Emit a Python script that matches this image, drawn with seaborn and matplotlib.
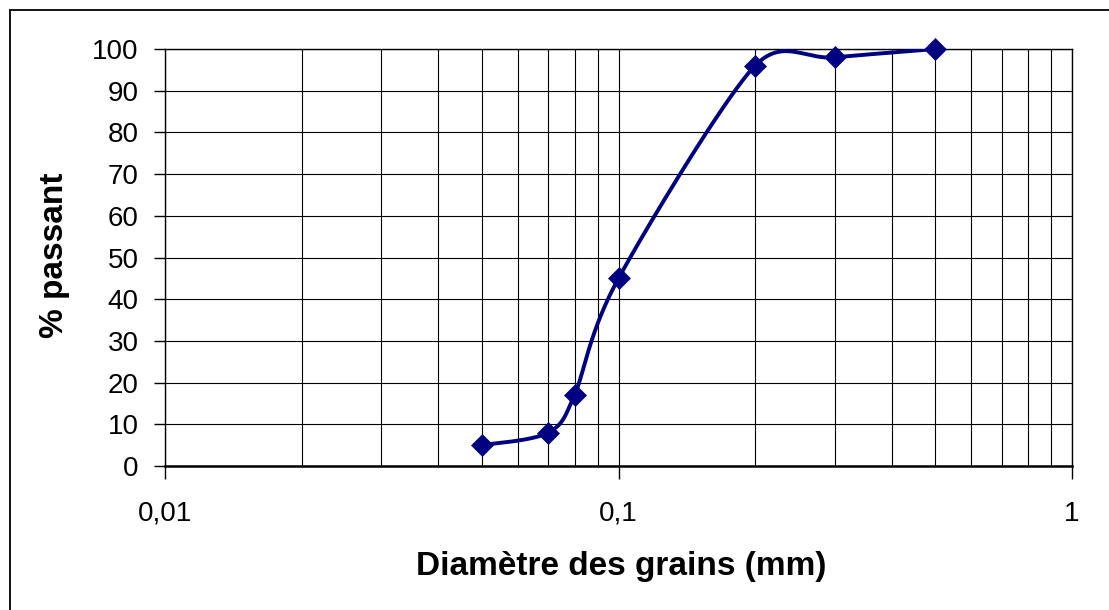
import numpy as np
import matplotlib
matplotlib.use("Agg")
import matplotlib.pyplot as plt
from matplotlib.patches import Rectangle
from matplotlib.ticker import LogLocator, FixedLocator, FixedFormatter, NullFormatter
import seaborn as sns

# Grain size distribution (sieve analysis)
diametre_mm = [0.05, 0.07, 0.08, 0.1, 0.2, 0.3, 0.5]
passant_pct = [5, 8, 17, 45, 96, 98, 100]

x_ticks = [0.01, 0.1, 1]
x_tick_labels = ["0,01", "0,1", "1"]
y_ticks = list(range(0, 101, 10))

NAVY = "#000080"

sns.set_theme(style="white")
plt.rcParams["font.family"] = ["Liberation Sans", "DejaVu Sans"]
plt.rcParams["text.color"] = "black"
plt.rcParams["xtick.color"] = "black"
plt.rcParams["ytick.color"] = "black"
plt.rcParams["axes.labelcolor"] = "black"

W, H = 1109, 610
fig = plt.figure(figsize=(W / 100, H / 100), dpi=100)
fig.patch.set_facecolor("white")

left, right, top, bottom = 165, 1072, 49, 466
ax = fig.add_axes([left / W, 1 - bottom / H, (right - left) / W, (bottom - top) / H])
ax.set_xscale("log")
ax.set_xlim(0.01, 1)
ax.set_ylim(0, 100)


def smooth_curve(xs, ys, n=60):
    """Bezier smoothing in display space, with tangents shortened near short segments."""
    pts = ax.transData.transform(np.column_stack([xs, ys]))
    P = np.vstack([pts[0], pts, pts[-1]])
    m = len(pts)
    tangents = []
    for i in range(1, m + 1):
        prev_p, cur, next_p = P[i - 1], P[i], P[i + 1]
        d02 = np.linalg.norm(next_p - prev_p)
        d01 = np.linalg.norm(cur - prev_p)
        d12 = np.linalg.norm(next_p - cur)
        f = 1.0 / 6.0
        lim = [d for d in (d01, d12) if d > 0]
        if d02 > 0 and lim and d02 / 6.0 > min(lim) / 2.0:
            f = min(lim) / (2.0 * d02)
        tangents.append(f * (next_p - prev_p))
    t = np.linspace(0, 1, n)[:, None]
    out = []
    for i in range(m - 1):
        p1, p2 = pts[i], pts[i + 1]
        c1 = p1 + tangents[i]
        c2 = p2 - tangents[i + 1]
        seg = ((1 - t) ** 3) * p1 + 3 * ((1 - t) ** 2) * t * c1 + 3 * (1 - t) * t ** 2 * c2 + t ** 3 * p2
        out.append(seg if i == 0 else seg[1:])
    curve = np.vstack(out)
    return ax.transData.inverted().transform(curve)


curve = smooth_curve(diametre_mm, passant_pct)
sns.lineplot(x=curve[:, 0], y=curve[:, 1], ax=ax, color=NAVY, lw=2.8, sort=False,
             estimator=None, zorder=3)
sns.scatterplot(x=diametre_mm, y=passant_pct, ax=ax, marker="D", s=125, color=NAVY,
                edgecolor=NAVY, linewidth=0.5, zorder=4, clip_on=False)

# Axes, ticks and grid
ax.xaxis.set_major_locator(FixedLocator(x_ticks))
ax.xaxis.set_major_formatter(FixedFormatter(x_tick_labels))
ax.xaxis.set_minor_locator(LogLocator(base=10, subs=np.arange(2, 10)))
ax.xaxis.set_minor_formatter(NullFormatter())
ax.set_yticks(y_ticks)
ax.set_yticklabels([str(v) for v in y_ticks])

ax.tick_params(axis="x", which="major", direction="out", length=9, width=1, color="black",
               labelcolor="black", labelsize=20, pad=16, bottom=True)
ax.tick_params(axis="x", which="minor", length=0)
ax.tick_params(axis="y", which="major", direction="out", length=8, width=1, color="black",
               labelcolor="black", labelsize=20, pad=11, left=True)

ax.grid(True, which="major", axis="both", color="black", lw=0.8)
ax.grid(True, which="minor", axis="x", color="black", lw=0.8)
ax.set_axisbelow(True)

for side in ["top", "right", "left"]:
    ax.spines[side].set_color("black")
    ax.spines[side].set_linewidth(1)
ax.spines["bottom"].set_color("black")
ax.spines["bottom"].set_linewidth(1.8)

ax.set_xlabel("Diamètre des grains (mm)", fontsize=24, fontweight="bold", color="black")
ax.set_ylabel("% passant", fontsize=24, fontweight="bold", color="black")
ax.xaxis.set_label_coords((621 - left) / (right - left), (bottom - 566) / (bottom - top))
ax.xaxis.label.set_va("center")
ax.yaxis.set_label_coords((55 - left) / (right - left), (bottom - 255) / (bottom - top))
ax.yaxis.label.set_va("center")

# Chart frame
fig.add_artist(Rectangle((10 / W, -0.1), 1.2, 1.1 - 10 / H, transform=fig.transFigure,
                         fill=False, edgecolor="black", lw=1.3))

fig.savefig("out.png", dpi=100, facecolor="white")
